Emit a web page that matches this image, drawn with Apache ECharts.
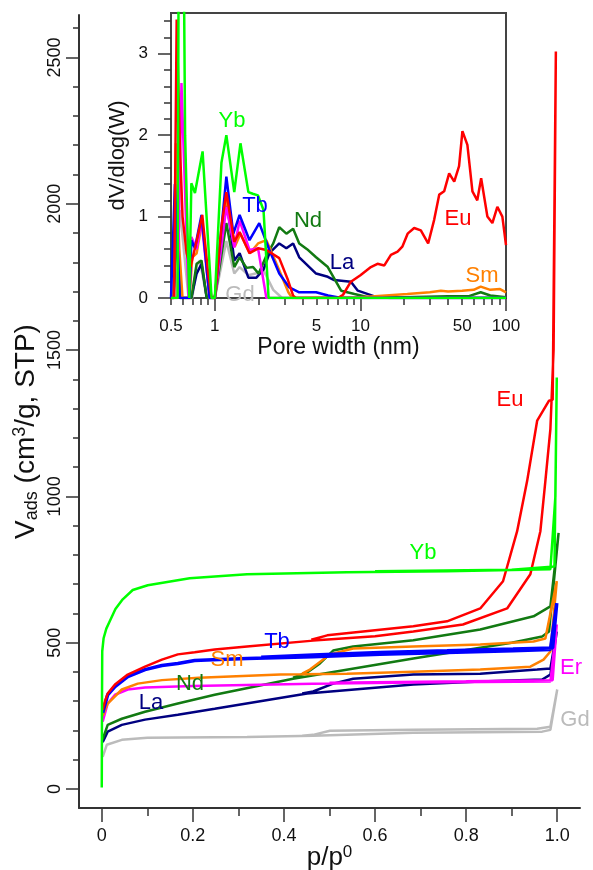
<!DOCTYPE html>
<html><head><meta charset="utf-8">
<script src="https://cdn.jsdelivr.net/npm/echarts@6/dist/echarts.min.js"></script>
<style>html,body{margin:0;padding:0;background:#fff}#c{width:593px;height:870px}</style>
</head><body><div id="c"></div>
<script>
// ---------- Isotherms (p/p0, V_ads) : adsorption and desorption branches ----------
const ybAds = [[0,5],[0.0005,300],[0.001,470],[0.004,515],[0.01,548],[0.018,575],[0.03,615],[0.046,648],[0.068,680],[0.101,696],[0.193,720],[0.319,734],[0.538,741],[0.758,744],[0.985,751],[0.996,1000],[0.999,1406]];
const ybDes = [[0.999,1406],[0.994,760],[0.9,749],[0.6,744]];
const euAds = [[0.002,270],[0.007,300],[0.013,326],[0.029,357],[0.057,391],[0.095,418],[0.132,442],[0.167,460],[0.204,467],[0.248,477],[0.319,487],[0.464,507],[0.6,522],[0.684,538],[0.793,562],[0.89,617],[0.941,734],[0.963,881],[0.974,1053],[0.985,1230],[0.992,1500],[0.997,2520]];
const euDes = [[0.997,2520],[0.99,1330],[0.982,1327],[0.956,1259],[0.934,1053],[0.912,881],[0.881,710],[0.831,617],[0.758,573],[0.684,556],[0.495,525],[0.46,510]];
const tbAds = [[0.002,260],[0.013,322],[0.029,350],[0.057,384],[0.095,408],[0.132,422],[0.167,429],[0.204,439],[0.244,442],[0.319,446],[0.464,452],[0.611,460],[0.758,466],[0.903,472],[0.985,477],[0.999,635]];
const tbDes = [[0.999,635],[0.99,482],[0.903,478],[0.758,472],[0.611,466],[0.464,458],[0.35,450]];
const smAds = [[0.002,250],[0.013,292],[0.044,340],[0.079,360],[0.132,372],[0.213,380],[0.392,391],[0.538,394],[0.684,401],[0.831,408],[0.941,418],[0.97,442],[0.985,470],[0.991,573],[0.999,710]];
const smDes = [[0.999,710],[0.974,514],[0.948,504],[0.831,494],[0.684,487],[0.552,480],[0.501,460],[0.457,408],[0.44,394]];
const erAds = [[0.002,230],[0.013,292],[0.029,322],[0.057,340],[0.095,347],[0.2,352],[0.464,360],[0.684,364],[0.985,367],[0.999,562]];
const erDes = [[0.999,562],[0.99,372],[0.8,368],[0.5,363]];
const ndAds = [[0.002,170],[0.013,219],[0.044,240],[0.095,264],[0.167,292],[0.248,322],[0.42,377],[0.684,446],[0.8,475],[0.9,500],[0.967,521],[0.982,538],[1.003,875]];
const ndDes = [[1.003,875],[0.985,624],[0.948,590],[0.831,545],[0.684,508],[0.552,487],[0.508,473],[0.479,429],[0.451,398],[0.42,380]];
const laAds = [[0.002,160],[0.013,196],[0.044,219],[0.095,237],[0.167,254],[0.248,274],[0.451,326],[0.684,357],[0.831,367],[0.967,374],[0.985,391],[0.999,538]];
const laDes = [[0.999,538],[0.985,412],[0.956,408],[0.831,394],[0.684,391],[0.552,377],[0.508,360],[0.464,333],[0.44,326]];
const gdAds = [[0.002,110],[0.011,151],[0.044,168],[0.1,175],[0.319,178],[0.464,182],[0.684,192],[0.967,196],[0.985,202],[1.0,340]];
const gdDes = [[1.0,340],[0.985,213],[0.956,206],[0.684,202],[0.501,199],[0.464,185],[0.44,182]];

// ---------- Pore size distributions (W nm, dV/dlog(W)) ----------
const euPsd = [[0.5,0],[0.525,0],[0.547,3.42],[0.575,1.9],[0.6,1.0],[0.64,0.55],[0.68,0.38],[0.75,0.7],[0.82,1.02],[0.9,0.3],[0.95,0],[1.0,0],[1.11,0.87],[1.2,1.3],[1.36,0.69],[1.48,0.81],[1.73,0.55],[1.99,0.61],[2.26,0.59],[2.77,0.49],[3.18,0.22],[3.45,0.03],[3.6,0],[7.0,0],[7.6,0.04],[8.6,0.2],[10,0.28],[11.8,0.38],[13.1,0.42],[14.6,0.4],[16.2,0.53],[18,0.57],[19.4,0.63],[21.1,0.79],[23.4,0.86],[26,0.83],[29.2,0.67],[32.1,0.96],[34.8,1.27],[37.6,1.31],[40.7,1.53],[44.1,1.43],[47.6,1.62],[50.2,2.05],[54.3,1.88],[58.8,1.31],[63.5,1.2],[67.5,1.47],[74.5,1.0],[80.6,0.92],[87.2,1.12],[94.4,1.0],[100,0.65]];
const ybPsd = [[0.5,0],[0.555,0],[0.565,4.5],[0.61,4.5],[0.625,2.0],[0.667,0],[0.69,1.41],[0.73,1.29],[0.824,1.8],[0.95,0],[1.0,0],[1.11,1.66],[1.2,2.0],[1.36,1.3],[1.5,1.9],[1.7,1.3],[1.82,1.28],[1.98,1.26],[2.16,1.08],[2.34,0],[100,0]];
const tbPsd = [[0.5,0],[0.51,0],[0.532,1.4],[0.55,0.8],[0.575,0],[0.67,0],[0.69,0.71],[0.73,0.61],[0.81,1.02],[0.92,0],[1.0,0],[1.2,1.49],[1.34,0.79],[1.48,1.02],[1.73,0.71],[2.02,0.92],[2.37,0.59],[2.77,0.3],[3.25,0.13],[3.8,0.07],[4.96,0.07],[6.0,0.03],[7.4,0],[100,0]];
const erPsd = [[0.5,0],[0.555,0],[0.59,2.64],[0.66,0],[0.69,0.75],[0.75,0.6],[0.81,0.95],[0.92,0],[1.0,0],[1.2,1.12],[1.36,0.62],[1.48,0.95],[1.73,0.59],[1.98,0.61],[2.26,0],[100,0]];
const smPsd = [[0.5,0],[0.52,0],[0.54,1.9],[0.57,0.6],[0.6,0],[0.67,0],[0.7,0.5],[0.75,0.55],[0.82,0.95],[0.92,0],[1.0,0],[1.2,1.25],[1.37,0.63],[1.5,0.79],[1.74,0.55],[1.98,0.67],[2.26,0.71],[2.77,0.34],[3.2,0.07],[3.4,0],[10,0.01],[21,0.05],[30,0.07],[35.7,0.09],[40,0.08],[50,0.09],[60,0.1],[67,0.14],[78,0.1],[91,0.11],[100,0.07]];
const ndPsd = [[0.5,0],[0.52,0],[0.545,0.85],[0.58,0],[0.69,0],[0.75,0.42],[0.81,0.46],[0.88,0],[1.0,0],[1.2,0.92],[1.36,0.38],[1.48,0.5],[1.65,0.37],[1.83,0.38],[2.0,0.3],[2.26,0.52],[2.52,0.67],[2.77,0.87],[3.1,0.79],[3.45,0.85],[3.8,0.67],[4.3,0.6],[4.96,0.5],[5.97,0.38],[7.37,0.09],[9.1,0.05],[11.3,0.01],[20,0.01],[40,0.02],[55,0.02],[67,0.07],[78,0.03],[100,0.01]];
const laPsd = [[0.5,0],[0.52,0],[0.545,0.9],[0.575,0],[0.69,0],[0.75,0.3],[0.81,0.42],[0.88,0],[1.0,0],[1.2,1.24],[1.36,0.46],[1.48,0.55],[1.7,0.25],[1.93,0.25],[2.16,0.35],[2.37,0.55],[2.77,0.67],[3.1,0.61],[3.45,0.67],[3.8,0.5],[4.96,0.3],[5.97,0.26],[6.6,0.22],[8.6,0.2],[9.6,0.09],[12.5,0.02],[16,0],[100,0]];
const gdPsd = [[0.5,0],[0.53,0],[0.575,1.08],[0.62,0.5],[0.66,0],[0.7,0],[0.75,0.4],[0.79,0.46],[0.88,0],[1.0,0],[1.2,0.7],[1.36,0.3],[1.48,0.38],[1.7,0.28],[1.9,0.3],[2.16,0.34],[2.52,0.1],[2.9,0],[100,0]];

// ---------- Ticks ----------
const mainXLabels = [0,0.2,0.4,0.6,0.8,1.0];
const mainXMinor = [0.1,0.3,0.5,0.7,0.9];
const mainYLabels = [0,500,1000,1500,2000,2500];
const mainYMinor = [100,200,300,400,600,700,800,900,1100,1200,1300,1400,1600,1700,1800,1900,2100,2200,2300,2400,2600];
const insetXLabels = [0.5,1,5,10,50,100];
const insetXMajor = [1,10,100];
const insetXMinor = [0.5,0.6,0.7,0.8,0.9,2,3,4,5,6,7,8,9,20,30,40,50,60,70,80,90];
const insetYLabels = [0,1,2,3];
const insetYMinor = [0.2,0.4,0.6,0.8,1.2,1.4,1.6,1.8,2.2,2.4,2.6,2.8,3.2,3.4];

const FONT = 'Liberation Sans, Arial, sans-serif';
const AX = '#333';
const C = {Eu:'#ff0000', Yb:'#00ff00', Tb:'#0000ff', Sm:'#ff8000', Er:'#ff00ff', Nd:'#127a12', La:'#000080', Gd:'#bbbbbb'};

function mainSeries(name, ads, des, w) {
  return {type:'line', name:name, xAxisIndex:0, yAxisIndex:0, showSymbol:false, symbol:'none', z:3,
    data: ads.concat(des), lineStyle:{color:C[name], width:w||2.5}, itemStyle:{color:C[name]}, silent:true, animation:false};
}
function psdSeries(name, d) {
  return {type:'line', name:name, xAxisIndex:2, yAxisIndex:2, showSymbol:false, symbol:'none', z:10,
    data:d, clip:true, lineStyle:{color:C[name], width:2.5}, itemStyle:{color:C[name]}, silent:true, animation:false};
}
function lbl(text, x, y, color) {
  return {type:'text', x:x, y:y, z:100, style:{text:text, fill:color, font:'22px ' + FONT, textAlign:'center', textVerticalAlign:'middle'}};
}

const chart = echarts.init(document.getElementById('c'));
const tickStyle = {color:AX, width:1.5};
chart.setOption({
  animation:false,
  backgroundColor:'#fff',
  textStyle:{fontFamily:FONT},
  grid:[
    {left:79, right:13, top:15, bottom:62, show:false, containLabel:false, outerBoundsMode:'none'},
    {left:171, top:13, width:335, height:285, show:true, borderColor:'#444', borderWidth:2, backgroundColor:'rgba(255,255,255,0)', z:5, containLabel:false, outerBoundsMode:'none'}
  ],
  xAxis:[
    {type:'value', gridIndex:0, min:-0.05, max:1.05, position:'bottom',
     axisLine:{show:true, onZero:false, lineStyle:{color:AX, width:2}},
     axisTick:{show:true, length:14, lineStyle:tickStyle, customValues:mainXLabels},
     axisLabel:{show:true, customValues:mainXLabels, margin:19, fontSize:18, color:'#111', fontFamily:FONT,
       formatter:v => v === 0 ? '0' : v.toFixed(1)},
     splitLine:{show:false},
     name:'p/p{sup|0}', nameLocation:'middle', nameGap:36, nameMoveOverlap:false,
     nameTextStyle:{fontSize:26, color:'#111', fontFamily:FONT, lineHeight:28,
       rich:{sup:{fontSize:17, verticalAlign:'top', lineHeight:28, fontFamily:FONT, color:'#111'}}}},
    {type:'value', gridIndex:0, min:-0.05, max:1.05, position:'bottom',
     axisLine:{show:false, onZero:false}, axisLabel:{show:false},
     axisTick:{show:true, length:8, lineStyle:tickStyle, customValues:mainXMinor}, splitLine:{show:false}},
    {type:'log', logBase:10, gridIndex:1, min:0.5, max:100, position:'bottom', z:6,
     axisLine:{show:true, onZero:false, lineStyle:{color:'#444', width:2}},
     axisTick:{show:true, length:13, lineStyle:tickStyle, customValues:insetXMajor},
     axisLabel:{show:true, customValues:insetXLabels, margin:20, fontSize:17, color:'#111', fontFamily:FONT,
       formatter:v => String(Math.round(v*10)/10)},
     splitLine:{show:false}, minorSplitLine:{show:false},
     name:'Pore width (nm)', nameLocation:'middle', nameGap:38, nameMoveOverlap:false,
     nameTextStyle:{fontSize:23, color:'#111', fontFamily:FONT}},
    {type:'log', logBase:10, gridIndex:1, min:0.5, max:100, position:'bottom', z:6,
     axisLine:{show:false, onZero:false}, axisLabel:{show:false},
     axisTick:{show:true, length:7, lineStyle:tickStyle, customValues:insetXMinor}, splitLine:{show:false}}
  ],
  yAxis:[
    {type:'value', gridIndex:0, min:-65, max:2645, position:'left',
     axisLine:{show:true, onZero:false, lineStyle:{color:AX, width:2}},
     axisTick:{show:true, length:13, lineStyle:tickStyle, customValues:mainYLabels},
     axisLabel:{show:true, customValues:mainYLabels, rotate:90, margin:15, fontSize:18, color:'#111', fontFamily:FONT,
       formatter:v => String(v)},
     splitLine:{show:false},
     name:'V{sub|ads} (cm{sup|3}/g, STP)', nameLocation:'middle', nameGap:38, nameRotate:90, nameMoveOverlap:false,
     nameTextStyle:{fontSize:28, color:'#111', fontFamily:FONT, lineHeight:30, padding:[0,40,0,0],
       rich:{sub:{fontSize:18, verticalAlign:'bottom', lineHeight:30, fontFamily:FONT, color:'#111'},
             sup:{fontSize:18, verticalAlign:'top', lineHeight:30, fontFamily:FONT, color:'#111'}}}},
    {type:'value', gridIndex:0, min:-65, max:2645, position:'left',
     axisLine:{show:false, onZero:false}, axisLabel:{show:false},
     axisTick:{show:true, length:6, lineStyle:tickStyle, customValues:mainYMinor}, splitLine:{show:false}},
    {type:'value', gridIndex:1, min:0, max:3.5, position:'left', z:6,
     axisLine:{show:true, onZero:false, lineStyle:{color:'#444', width:2}},
     axisTick:{show:true, length:13, lineStyle:tickStyle, customValues:insetYLabels},
     axisLabel:{show:true, customValues:insetYLabels, margin:23, fontSize:17, color:'#111', fontFamily:FONT},
     splitLine:{show:false},
     name:'dV/dlog(W)', nameLocation:'middle', nameGap:42, nameRotate:90, nameMoveOverlap:false,
     nameTextStyle:{fontSize:22, color:'#111', fontFamily:FONT}},
    {type:'value', gridIndex:1, min:0, max:3.5, position:'left', z:6,
     axisLine:{show:false, onZero:false}, axisLabel:{show:false},
     axisTick:{show:true, length:7, lineStyle:tickStyle, customValues:insetYMinor}, splitLine:{show:false}}
  ],
  series:[
    mainSeries('Gd', gdAds, gdDes),
    mainSeries('La', laAds, laDes),
    mainSeries('Nd', ndAds, ndDes),
    mainSeries('Er', erAds, erDes),
    mainSeries('Sm', smAds, smDes),
    mainSeries('Tb', tbAds, tbDes, 3.5),
    mainSeries('Eu', euAds, euDes),
    mainSeries('Yb', ybAds, ybDes),
    psdSeries('Gd', gdPsd),
    psdSeries('La', laPsd),
    psdSeries('Nd', ndPsd),
    psdSeries('Sm', smPsd),
    psdSeries('Er', erPsd),
    psdSeries('Tb', tbPsd),
    psdSeries('Eu', euPsd),
    psdSeries('Yb', ybPsd)
  ],
  graphic:[
    lbl('Eu', 510, 400, C.Eu), lbl('Yb', 423, 553, C.Yb), lbl('Tb', 277, 642, C.Tb),
    lbl('Sm', 227, 660, C.Sm), lbl('Nd', 190, 684, C.Nd), lbl('La', 151, 703, C.La),
    lbl('Er', 571, 668, C.Er), lbl('Gd', 575, 720, C.Gd),
    lbl('Yb', 232, 121, C.Yb), lbl('Tb', 255, 206, C.Tb), lbl('Nd', 308, 221, C.Nd),
    lbl('La', 342, 263, C.La), lbl('Eu', 458, 219, C.Eu), lbl('Sm', 482, 276, C.Sm),
    lbl('Gd', 240, 295, C.Gd)
  ]
});
</script></body></html>
